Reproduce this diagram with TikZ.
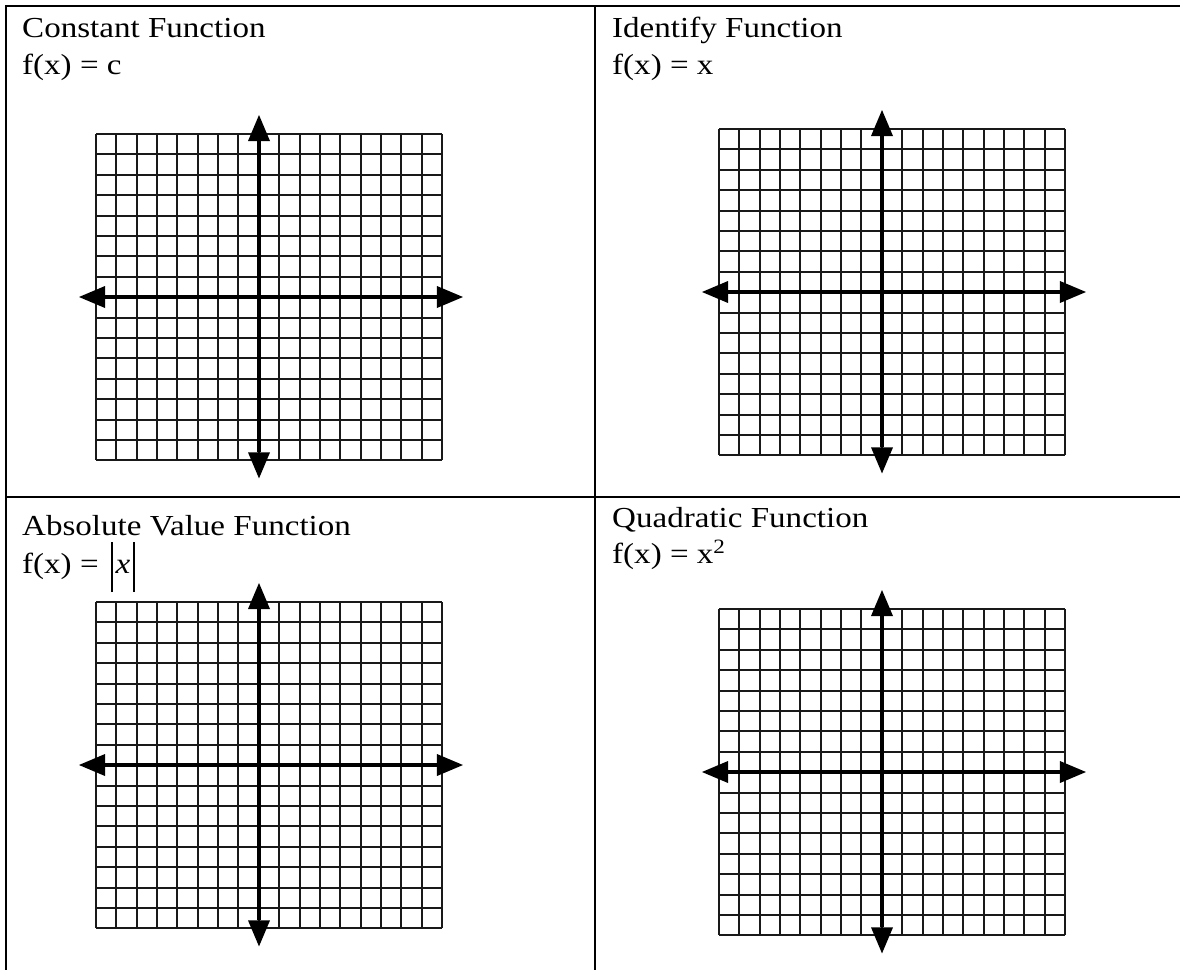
\documentclass[tikz,border=0pt]{standalone}
\usepackage{fontspec}
\setmainfont{Liberation Serif}[FakeStretch=1.14]
\usetikzlibrary{arrows.meta}
\tikzset{
  frameline/.style={line width=2.4pt, line cap=rect},
  gridline/.style={line width=2.6pt, black!90},
  axisline/.style={line width=4.4pt,
    {Triangle[length=26pt,width=22pt,line width=0pt]}-{Triangle[length=26pt,width=22pt,line width=0pt]}},
  label/.style={anchor=base west, inner sep=0pt, font=\fontsize{29}{35}\selectfont}
}
% #1 = left x, #2 = top y, #3 = name
\newcommand\axgrid[3]{%
  \foreach \i in {0,...,17}{\draw[gridline] ({round(#1+\i*20.35)},#2) -- ({round(#1+\i*20.35)},{round(#2+16*20.4)});}
  \foreach \j in {0,...,16}{\draw[gridline] (#1,{round(#2+\j*20.4)}) -- ({round(#1+17*20.35)},{round(#2+\j*20.4)});}
  \coordinate (#3-top) at ({round(#1+8*20.35)},{#2-19});
  \coordinate (#3-bot) at ({round(#1+8*20.35)},{#2+16*20.4+18});
  \coordinate (#3-lft) at ({#1-17},{round(#2+8*20.4)});
  \coordinate (#3-rgt) at ({#1+17*20.35+21},{round(#2+8*20.4)});
  \draw[axisline] (#3-bot) -- (#3-top);
  \draw[axisline] (#3-lft) -- (#3-rgt);
}
\newcommand\absbar{\rule[-19pt]{1.6pt}{50pt}}
\begin{document}
\begin{tikzpicture}[x=1pt,y=-1pt]
\useasboundingbox (0,0) rectangle (1180,969);
% table frame
\coordinate (tl) at (6,6);
\coordinate (tr) at (1180,6);
\coordinate (bl) at (6,969);
\coordinate (mt) at (595,6);
\coordinate (mb) at (595,969);
\coordinate (ml) at (6,497);
\coordinate (mr) at (1180,497);
\draw[frameline] (tr) -- (tl) -- (bl);
\draw[frameline] (mt) -- (mb);
\draw[frameline] (ml) -- (mr);
% labels
\node[label] (t1) at (22,37) {Constant Function};
\node[label] (e1) at (22,74) {f(x) = c};
\node[label] (t2) at (612,37) {Identify Function};
\node[label] (e2) at (612,74) {f(x) = x};
\node[label] (t3) at (22,535) {Absolute Value Function};
\node[label] (e3) at (22,573) {f(x) = \hspace{4pt}\absbar\hspace{3pt}\textit{x}\hspace{3pt}\absbar};
\node[label] (t4) at (612,527) {Quadratic Function};
\node[label] (e4) at (612,563) {f(x) = x\textsuperscript{2}};
% grids
\axgrid{96}{134}{g1}
\axgrid{719}{129}{g2}
\axgrid{96}{602}{g3}
\axgrid{719}{609}{g4}
\end{tikzpicture}
\end{document}
